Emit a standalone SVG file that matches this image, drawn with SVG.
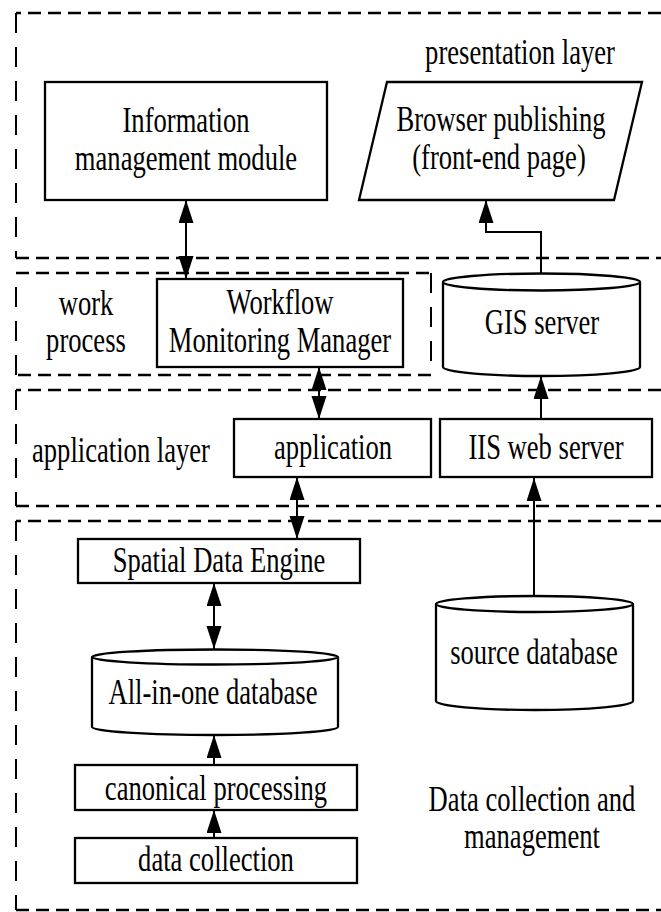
<svg xmlns="http://www.w3.org/2000/svg" width="661" height="912" viewBox="0 0 661 912">
<style>
.bg{fill:#fff}
.box{fill:#fff;stroke:#000;stroke-width:2.3}
.dh{fill:none;stroke:#000;stroke-width:2.6;stroke-dasharray:13 7}
.dv{fill:none;stroke:#000;stroke-width:2;stroke-dasharray:20 14}
.con{fill:none;stroke:#000;stroke-width:2}
text{font-family:"Liberation Serif","Times New Roman",serif;font-size:35px;fill:#000;text-anchor:middle}
</style>
<defs>
<marker id="ah" markerUnits="userSpaceOnUse" markerWidth="24" markerHeight="16" refX="23" refY="7.5" orient="auto-start-reverse" viewBox="0 0 24 16">
<path d="M0,0 L23,7.5 L0,15 z" fill="#000"/>
</marker>
</defs>
<rect class="bg" x="0" y="0" width="661" height="912"/>
<g id="layers">
<path class="dh" d="M661,13 H16"/>
<path class="dv" d="M16,13 V258"/>
<path class="dh" d="M16,258 H661"/>
<path class="dh" d="M16,273 H431"/>
<path class="dv" d="M431,273 V375"/>
<path class="dh" d="M431,375 H16"/>
<path class="dv" d="M16,375 V273"/>
<path class="dh" d="M661,390 H16"/>
<path class="dv" d="M16,390 V506"/>
<path class="dh" d="M16,506 H661"/>
<path class="dh" d="M661,521 H16"/>
<path class="dv" d="M16,521 V910"/>
<path class="dh" d="M16,910 H661"/>
<text transform="translate(520,64) scale(0.76,1)">presentation layer</text>
<text transform="translate(86,315) scale(0.76,1)">work</text>
<text transform="translate(86,352) scale(0.76,1)">process</text>
<text transform="translate(121,462) scale(0.76,1)">application layer</text>
<text transform="translate(532,811) scale(0.76,1)">Data collection and</text>
<text transform="translate(532,848) scale(0.76,1)">management</text>
</g>
<g id="connectors">
<path class="con" d="M186,200 V279" marker-start="url(#ah)" marker-end="url(#ah)"/>
<path class="con" d="M541,273 V232 H486 V200" marker-end="url(#ah)"/>
<path class="con" d="M319,367 V419" marker-start="url(#ah)" marker-end="url(#ah)"/>
<path class="con" d="M541,419 V376" marker-end="url(#ah)"/>
<path class="con" d="M297,477 V539" marker-start="url(#ah)" marker-end="url(#ah)"/>
<path class="con" d="M534,596 V478" marker-end="url(#ah)"/>
<path class="con" d="M214,583 V649" marker-start="url(#ah)" marker-end="url(#ah)"/>
<path class="con" d="M214,765 V735" marker-end="url(#ah)"/>
<path class="con" d="M214,838 V810" marker-end="url(#ah)"/>
</g>
<g id="info">
<rect class="box" x="45" y="82" width="282" height="118"/>
<text transform="translate(186,132) scale(0.76,1)">Information</text>
<text transform="translate(186,170) scale(0.76,1)">management module</text>
</g>
<g id="browser">
<path class="box" d="M387,82 H642 L614,200 H359 Z"/>
<text transform="translate(501,131) scale(0.76,1)">Browser publishing</text>
<text transform="translate(499,169) scale(0.76,1)">(front-end page)</text>
</g>
<g id="workflow">
<rect class="box" x="157" y="279" width="246" height="88"/>
<text transform="translate(280,314) scale(0.76,1)">Workflow</text>
<text transform="translate(280,352) scale(0.76,1)">Monitoring Manager</text>
</g>
<g id="gis">
<path class="box" d="M443,282 V367 A98.5,9 0 0 0 640,367 V282"/>
<ellipse class="box" cx="541.5" cy="282" rx="98.5" ry="8.5"/>
<text transform="translate(542,334) scale(0.76,1)">GIS server</text>
</g>
<g id="application">
<rect class="box" x="234" y="419" width="197" height="58"/>
<text transform="translate(333,459) scale(0.76,1)">application</text>
</g>
<g id="iis">
<rect class="box" x="440" y="419" width="212" height="58"/>
<text transform="translate(546,459) scale(0.76,1)">IIS web server</text>
</g>
<g id="sde">
<rect class="box" x="78" y="539" width="282" height="44"/>
<text transform="translate(219,572) scale(0.76,1)">Spatial Data Engine</text>
</g>
<g id="source">
<path class="box" d="M436,604 V701 A98.5,9 0 0 0 633,701 V604"/>
<ellipse class="box" cx="534.5" cy="604" rx="98.5" ry="8"/>
<text transform="translate(534,664) scale(0.76,1)">source database</text>
</g>
<g id="allinone">
<path class="box" d="M92,657 V727 A123,8 0 0 0 338,727 V657"/>
<ellipse class="box" cx="215" cy="657" rx="123" ry="7.5"/>
<text transform="translate(213,704) scale(0.76,1)">All-in-one database</text>
</g>
<g id="canonical">
<rect class="box" x="75" y="765" width="282" height="45"/>
<text transform="translate(216,800) scale(0.76,1)">canonical processing</text>
</g>
<g id="collection">
<rect class="box" x="75" y="838" width="282" height="45"/>
<text transform="translate(216,871) scale(0.76,1)">data collection</text>
</g>
</svg>
